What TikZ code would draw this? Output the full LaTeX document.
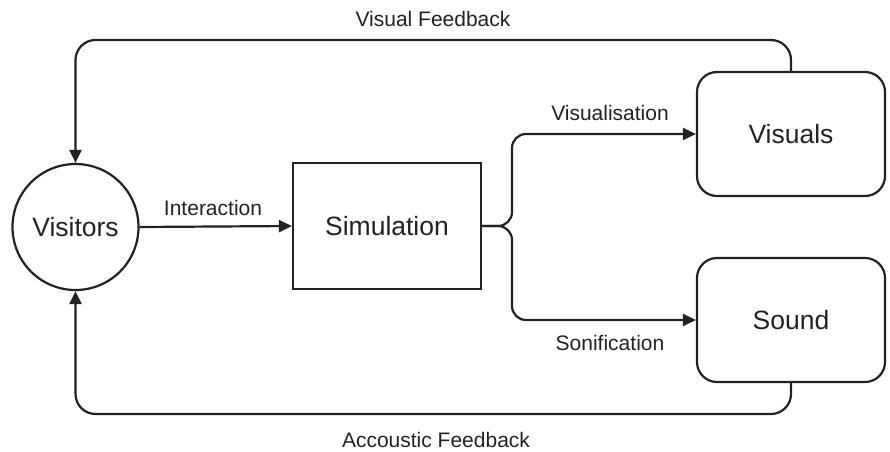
\documentclass[tikz,border=0pt]{standalone}
\usepackage{fontspec}
\setmainfont{Liberation Sans}
\usetikzlibrary{arrows.meta,calc}
\definecolor{ink}{HTML}{222222}
\tikzset{
  conn/.style={draw=ink, line width=2.2pt},
  arr/.style={conn, -{Triangle[length=13pt,width=12pt]}},
  lbl/.style={text=ink, font=\fontsize{21}{25}\selectfont, inner sep=0pt},
  big/.style={draw=ink, line width=2.2pt, text=ink, font=\fontsize{26.5}{31}\selectfont}
}
\begin{document}
\begin{tikzpicture}[x=1pt,y=-1pt]
\useasboundingbox (0,0) rectangle (890,451);
\node[big, circle, minimum size=126pt, inner sep=0pt] (vis) at (75.5,227) {Visitors};
\node[big, rectangle, minimum width=188pt, minimum height=126pt] (sim) at (387,226) {Simulation};
\node[big, rectangle, rounded corners=20pt, minimum width=188pt, minimum height=124pt] (visuals) at (791,134) {Visuals};
\node[big, rectangle, rounded corners=20pt, minimum width=188pt, minimum height=124pt] (sound) at (791,320) {Sound};

\coordinate (split) at (512,226);
\coordinate (topR) at (791,40);
\coordinate (botR) at (791,414);

\draw[arr] (vis.east) -- (sim.west);
\draw[arr, rounded corners=14pt] (sim.east) -- (split) |- (visuals.west);
\draw[arr, rounded corners=14pt] (sim.east) -- (split) |- (sound.west);
\draw[arr, rounded corners=20pt] (visuals.north) -- (topR) -| (vis.north);
\draw[arr, rounded corners=20pt] (sound.south) -- (botR) -| (vis.south);

\node[lbl] (l1) at (433,19) {Visual Feedback};
\node[lbl] (l2) at (436,440) {Accoustic Feedback};
\node[lbl] (l3) at (213,208) {Interaction};
\node[lbl] (l4) at (610,113) {Visualisation};
\node[lbl] (l5) at (610,343) {Sonification};
\end{tikzpicture}
\end{document}
